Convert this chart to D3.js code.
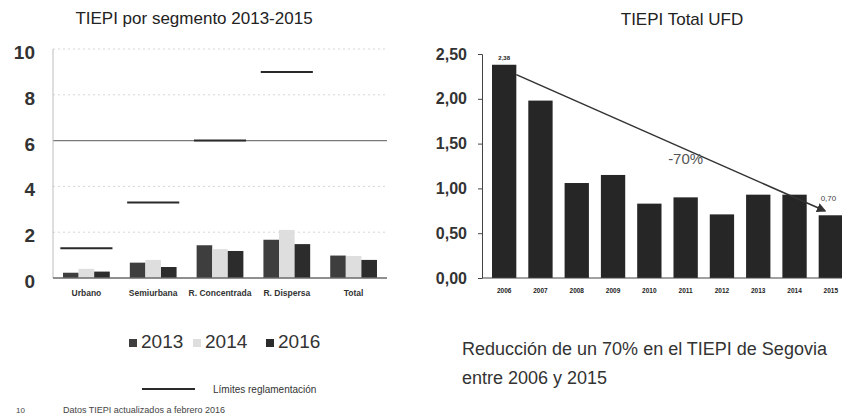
<!DOCTYPE html>
<html>
<head>
<meta charset="utf-8">
<script src="https://cdn.jsdelivr.net/npm/d3@7"></script>
<style>
  html, body { margin: 0; padding: 0; background: #fff; }
  svg { display: block; font-family: "Liberation Sans", Arial, sans-serif; }
</style>
</head>
<body>
<div id="chart"></div>
<script>
// Datos segmento (izquierda)
var segments = ["Urbano", "Semiurbana", "R. Concentrada", "R. Dispersa", "Total"];
var segYears = ["2013", "2014", "2016"];
var seg2013 = [0.23, 0.67, 1.43, 1.67, 0.98];
var seg2014 = [0.40, 0.79, 1.26, 2.10, 0.96];
var seg2016 = [0.28, 0.48, 1.18, 1.48, 0.79];
var limits = [1.3, 3.3, 6, 9, null];
var leftTicks = [0, 2, 4, 6, 8, 10];

// Datos TIEPI total (derecha)
var years = ["2006", "2007", "2008", "2009", "2010", "2011", "2012", "2013", "2014", "2015"];
var tiepi = [2.38, 1.98, 1.06, 1.15, 0.83, 0.90, 0.71, 0.93, 0.93, 0.70];
var rightTicks = [0, 0.5, 1, 1.5, 2, 2.5];
var trend = [{year: "2006", value: 2.27}, {year: "2015", value: 0.75}];

var W = 842, H = 420;
var svg = d3.select("#chart").append("svg")
    .attr("width", W).attr("height", H);

var defs = svg.append("defs");
defs.append("marker")
    .attr("id", "arrow")
    .attr("viewBox", "0 0 10 10")
    .attr("refX", 8).attr("refY", 5)
    .attr("markerWidth", 6).attr("markerHeight", 6)
    .attr("orient", "auto")
    .append("path")
    .attr("d", "M0,0 L10,5 L0,10 z")
    .attr("fill", "#333");

// ---------- Gráfico izquierdo ----------
var left = svg.append("g");
var xL = d3.scaleBand().domain(segments).range([53, 387]).paddingInner(0.3).paddingOuter(0.15);
var xSub = d3.scaleBand().domain(segYears).range([0, xL.bandwidth()]);
var yL = d3.scaleLinear().domain([0, 10]).range([278, 49]);
var segColors = {"2013": "#3e3e3e", "2014": "#dedede", "2016": "#2c2c2c"};
var segValues = {"2013": seg2013, "2014": seg2014, "2016": seg2016};

left.append("text")
    .attr("x", 194).attr("y", 24)
    .attr("text-anchor", "middle")
    .style("font-size", "17px")
    .style("fill", "#222")
    .text("TIEPI por segmento 2013-2015");

// Rejilla
left.selectAll(".grid")
    .data(leftTicks.filter(d => d > 0))
    .enter().append("line")
    .attr("x1", 53).attr("x2", 387)
    .attr("y1", d => yL(d)).attr("y2", d => yL(d))
    .attr("stroke", d => d === 6 ? "#7a7a7a" : "#d6d6d6")
    .attr("stroke-width", d => d === 6 ? 1.2 : 1)
    .attr("stroke-dasharray", d => d === 6 ? null : "2,3");

left.selectAll(".ylab")
    .data(leftTicks)
    .enter().append("text")
    .attr("x", 35)
    .attr("y", d => yL(d) + 10)
    .attr("text-anchor", "end")
    .style("font-size", "19px")
    .style("font-weight", "bold")
    .style("fill", "#333")
    .text(d => d);

left.append("line")
    .attr("x1", 53).attr("x2", 53)
    .attr("y1", yL(10)).attr("y2", yL(0))
    .attr("stroke", "#bdbdbd");

// Barras
var groups = left.selectAll(".grp")
    .data(segments)
    .enter().append("g")
    .attr("transform", d => "translate(" + xL(d) + ",0)");

groups.selectAll("rect")
    .data((d, i) => segYears.map(y => ({year: y, value: segValues[y][i]})))
    .enter().append("rect")
    .attr("x", d => xSub(d.year))
    .attr("y", d => yL(d.value))
    .attr("width", xSub.bandwidth())
    .attr("height", d => yL(0) - yL(d.value))
    .attr("fill", d => segColors[d.year]);

left.append("line")
    .attr("x1", 53).attr("x2", 387)
    .attr("y1", yL(0)).attr("y2", yL(0))
    .attr("stroke", "#6a6a6a").attr("stroke-width", 1.5);

// Límites reglamentación
left.selectAll(".lim")
    .data(segments.map((s, i) => ({seg: s, value: limits[i]})).filter(d => d.value !== null))
    .enter().append("line")
    .attr("x1", d => xL(d.seg) + xL.bandwidth() / 2 - xL.step() * 0.39)
    .attr("x2", d => xL(d.seg) + xL.bandwidth() / 2 + xL.step() * 0.39)
    .attr("y1", d => yL(d.value)).attr("y2", d => yL(d.value))
    .attr("stroke", "#2a2a2a").attr("stroke-width", 2);

left.selectAll(".xlab")
    .data(segments)
    .enter().append("text")
    .attr("x", d => xL(d) + xL.bandwidth() / 2)
    .attr("y", 296)
    .attr("text-anchor", "middle")
    .style("font-size", "8.5px")
    .style("font-weight", "bold")
    .style("fill", "#333")
    .text(d => d);

// Leyenda años
var legX = {"2013": 129, "2014": 193, "2016": 266};
var leg = left.selectAll(".leg")
    .data(segYears)
    .enter().append("g")
    .attr("transform", d => "translate(" + legX[d] + ",0)");
leg.append("rect")
    .attr("x", 0).attr("y", 339)
    .attr("width", 8).attr("height", 8)
    .attr("fill", d => segColors[d]);
leg.append("text")
    .attr("x", 12).attr("y", 348)
    .style("font-size", "19px")
    .style("fill", "#333")
    .text(d => d);

left.append("line")
    .attr("x1", 142).attr("x2", 195)
    .attr("y1", 389).attr("y2", 389)
    .attr("stroke", "#2a2a2a").attr("stroke-width", 2);
left.append("text")
    .attr("x", 213).attr("y", 393)
    .style("font-size", "10px")
    .style("fill", "#333")
    .text("Límites reglamentación");

left.append("text")
    .attr("x", 16).attr("y", 413)
    .style("font-size", "8px").style("fill", "#444")
    .text("10");
left.append("text")
    .attr("x", 63).attr("y", 413)
    .style("font-size", "9px").style("fill", "#444")
    .text("Datos TIEPI actualizados a febrero 2016");

// ---------- Gráfico derecho ----------
var right = svg.append("g");
var xR = d3.scaleBand().domain(years).range([483, 852]).paddingInner(0.33).paddingOuter(0.248);
var yR = d3.scaleLinear().domain([0, 2.5]).range([278, 54]);
var fmt = d3.formatLocale({decimal: ",", thousands: ".", grouping: [3], currency: ["", "€"]}).format(".2f");

right.append("text")
    .attr("x", 682).attr("y", 25)
    .attr("text-anchor", "middle")
    .style("font-size", "17px")
    .style("fill", "#222")
    .text("TIEPI Total UFD");

right.selectAll(".bar")
    .data(years.map((y, i) => ({year: y, value: tiepi[i]})))
    .enter().append("rect")
    .attr("x", d => xR(d.year))
    .attr("y", d => yR(d.value))
    .attr("width", xR.bandwidth())
    .attr("height", d => yR(0) - yR(d.value))
    .attr("fill", "#262626");

var axisR = right.append("g")
    .attr("transform", "translate(482,0)")
    .call(d3.axisLeft(yR).tickValues(rightTicks).tickSize(4).tickFormat(fmt));
axisR.select(".domain").attr("stroke", "#444");
axisR.selectAll(".tick line").attr("stroke", "#444");
axisR.selectAll(".tick text")
    .attr("x", -15)
    .style("font-size", "16px")
    .style("font-weight", "bold")
    .style("font-family", "'Liberation Sans', Arial, sans-serif")
    .style("fill", "#333");

right.append("line")
    .attr("x1", 483).attr("x2", 842)
    .attr("y1", yR(0)).attr("y2", yR(0))
    .attr("stroke", "#444").attr("stroke-width", 1.2);

right.selectAll(".xlab")
    .data(years)
    .enter().append("text")
    .attr("x", d => xR(d) + xR.bandwidth() / 2)
    .attr("y", 293)
    .attr("text-anchor", "middle")
    .style("font-size", "6.5px")
    .style("font-weight", "bold")
    .style("fill", "#222")
    .text(d => d);

// Línea de tendencia
right.append("line")
    .attr("x1", xR(trend[0].year) + xR.bandwidth())
    .attr("y1", yR(trend[0].value))
    .attr("x2", xR(trend[1].year) + 6)
    .attr("y2", yR(trend[1].value))
    .attr("stroke", "#333").attr("stroke-width", 1.6)
    .attr("marker-end", "url(#arrow)");

right.append("text")
    .attr("x", xR("2011") + xR.bandwidth() / 2)
    .attr("y", yR(1.27))
    .attr("text-anchor", "middle")
    .style("font-size", "15px")
    .style("fill", "#555")
    .text("-70%");

right.append("text")
    .attr("x", xR("2006") + xR.bandwidth() / 2)
    .attr("y", yR(tiepi[0]) - 5)
    .attr("text-anchor", "middle")
    .style("font-size", "6px").style("font-weight", "bold")
    .style("fill", "#222")
    .text(fmt(tiepi[0]));

right.append("text")
    .attr("x", xR("2015") + 2)
    .attr("y", yR(tiepi[9]) - 14)
    .style("font-size", "8px")
    .style("fill", "#444")
    .text(fmt(tiepi[9]));

right.append("text")
    .attr("x", 462).attr("y", 355)
    .style("font-size", "18px").style("fill", "#333")
    .text("Reducción de un 70% en el TIEPI de Segovia");
right.append("text")
    .attr("x", 462).attr("y", 384)
    .style("font-size", "18px").style("fill", "#333")
    .text("entre 2006 y 2015");
</script>
</body>
</html>
